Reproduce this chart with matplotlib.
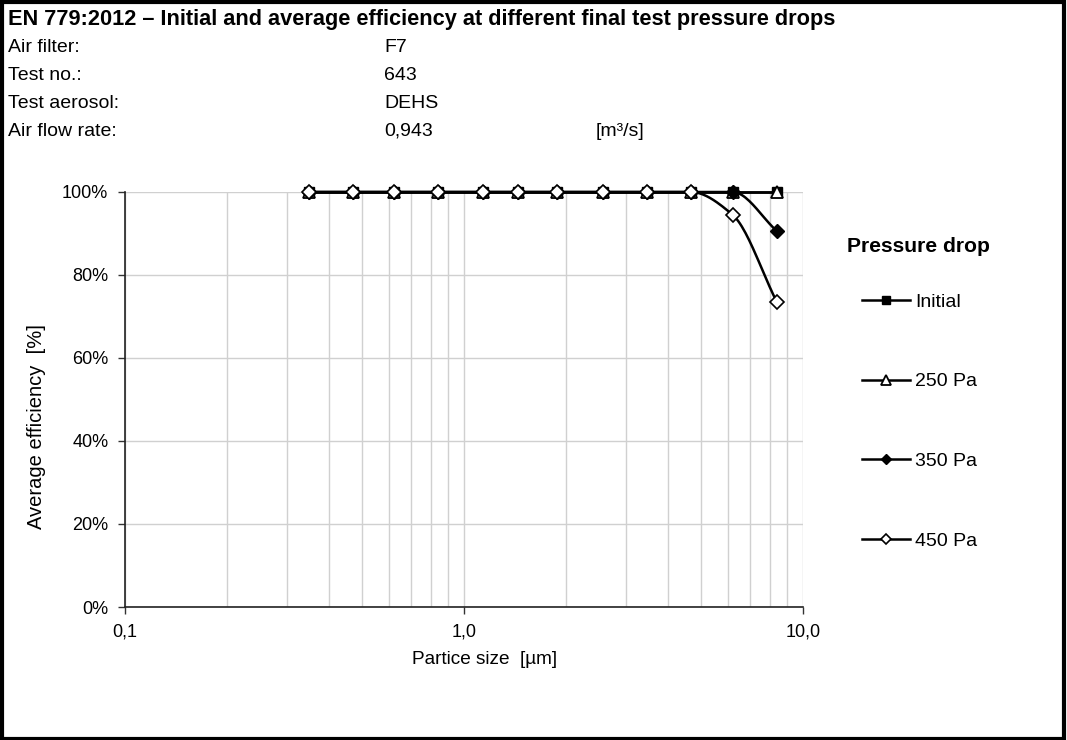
import numpy as np
import matplotlib
matplotlib.use("Agg")
import matplotlib.pyplot as plt
from matplotlib.patches import Rectangle
from matplotlib.ticker import FixedLocator, FuncFormatter, LogLocator, NullFormatter

plt.rcParams['font.family'] = ['Liberation Sans', 'DejaVu Sans']

# particle sizes [um]
sizes = [0.35, 0.47, 0.62, 0.84, 1.14, 1.44, 1.88, 2.57, 3.46, 4.67, 6.20, 8.37]

# efficiency [%] per pressure drop
eff_initial = [100, 100, 100, 100, 100, 100, 100, 100, 100, 100, 100.0, 100.0]
eff_250 = [100, 100, 100, 100, 100, 100, 100, 100, 100, 100, 100.0, 100.0]
eff_350 = [100, 100, 100, 100, 100, 100, 100, 100, 100, 100, 100.0, 90.6]
eff_450 = [100, 100, 100, 100, 100, 100, 100, 100, 100, 100, 94.5, 73.5]

series_labels = ["Initial", "250 Pa", "350 Pa", "450 Pa"]

header_keys = ["Air filter:", "Test no.:", "Test aerosol:", "Air flow rate:"]
header_vals = ["F7", "643", "DEHS", "0,943"]


def smooth(x, y, n=24):
    # smoothed line through the points (monotone cubic in log-x space)
    lx = np.log10(x)
    y = np.asarray(y, float)
    h = np.diff(lx)
    d = np.diff(y) / h
    m = np.zeros_like(y)
    m[0], m[-1] = d[0], d[-1]
    for i in range(1, len(y)-1):
        if d[i-1]*d[i] > 0:
            w1, w2 = 2*h[i]+h[i-1], h[i]+2*h[i-1]
            m[i] = (w1+w2)/(w1/d[i-1] + w2/d[i])
    ox, oy = [], []
    for i in range(len(h)):
        t = np.linspace(0, 1, n, endpoint=False)
        h00 = 2*t**3 - 3*t**2 + 1
        h10 = t**3 - 2*t**2 + t
        h01 = -2*t**3 + 3*t**2
        h11 = t**3 - t**2
        ox.extend(lx[i] + t*h[i])
        oy.extend(h00*y[i] + h10*h[i]*m[i] + h01*y[i+1] + h11*h[i]*m[i+1])
    ox.append(lx[-1]); oy.append(y[-1])
    return 10**np.array(ox), np.array(oy)


fig = plt.figure(figsize=(10.67, 7.40), dpi=100)
ax = fig.add_axes([125/1067, 1-607/740, (803-125)/1067, (607-192)/740])

styles = [
    dict(marker='s', mfc='black', mec='black', ms=7.5),
    dict(marker='^', mfc='white', mec='black', ms=8.5, mew=1.3),
    dict(marker='D', mfc='black', mec='black', ms=7),
    dict(marker='D', mfc='white', mec='black', ms=7, mew=1.2),
]
for vals, lab, st in zip([eff_initial, eff_250, eff_350, eff_450], series_labels, styles):
    sx, sy = smooth(np.array(sizes), vals)
    ax.plot(sx, sy, color='black', lw=1.8, clip_on=False, zorder=3)
    ax.plot(sizes, vals, linestyle='none', clip_on=False, zorder=4, **st)
    ax.plot([], [], color='black', lw=1.8, label=lab,
            **{**st, 'ms': st['ms']*0.8})

ax.set_xscale('log')
ax.set_xlim(0.1, 10)
ax.set_ylim(0, 100)
ax.xaxis.set_major_locator(FixedLocator([0.1, 1, 10]))
ax.xaxis.set_major_formatter(FuncFormatter(lambda v, p: f"{v:.1f}".replace('.', ',')))
ax.xaxis.set_minor_locator(LogLocator(base=10, subs=np.arange(2, 10)))
ax.xaxis.set_minor_formatter(NullFormatter())
ax.set_yticks(np.arange(0, 101, 20))
ax.yaxis.set_major_formatter(FuncFormatter(lambda v, p: f"{v:.0f}%"))
ax.grid(True, which='both', axis='x', color='#d0d0d0', lw=1)
ax.grid(True, which='major', axis='y', color='#d0d0d0', lw=1)
ax.tick_params(axis='both', which='major', direction='out', length=5, width=1,
               labelsize=13, pad=7, color='#333333')
ax.tick_params(axis='x', which='minor', length=0)
for s in ['top', 'right']:
    ax.spines[s].set_visible(False)
for s in ['left', 'bottom']:
    ax.spines[s].set_color('#222222')
    ax.spines[s].set_linewidth(1.2)
ax.set_axisbelow(True)

fig.text(485/1067, 1-660/740, "Partice size  [µm]", ha='center', va='center', fontsize=13.7)
fig.text(37/1067, 1-427/740, "Average efficiency  [%]", ha='center', va='center',
         rotation=90, fontsize=14.5)

# header block
fig.text(8/1067, 1-20/740, "EN 779:2012 \u2013 Initial and average efficiency at different final test pressure drops",
         ha='left', va='center', fontsize=15.7, fontweight='bold')
for i, (k, v) in enumerate(zip(header_keys, header_vals)):
    yy = 1-(47+28*i)/740
    fig.text(8/1067, yy, k, ha='left', va='center', fontsize=14)
    fig.text(384/1067, yy, v, ha='left', va='center', fontsize=14)
fig.text(596/1067, 1-131/740, "[m³/s]", ha='left', va='center', fontsize=14)

# legend
fig.text(847/1067, 1-247/740, "Pressure drop", ha='left', va='center',
         fontsize=15.2, fontweight='bold')
leg = ax.legend(loc='upper left', bbox_to_anchor=(862/1067, 1-293/740),
                bbox_transform=fig.transFigure, frameon=False, fontsize=14,
                labelspacing=3.2, handlelength=2.45, handletextpad=0.3,
                borderaxespad=0, borderpad=0)

# outer frame
fig.patches.append(Rectangle((0.0015, 0.002), 0.9955, 0.9955, transform=fig.transFigure,
                             fill=False, edgecolor='black', lw=3))

fig.savefig("out.png", dpi=100)
